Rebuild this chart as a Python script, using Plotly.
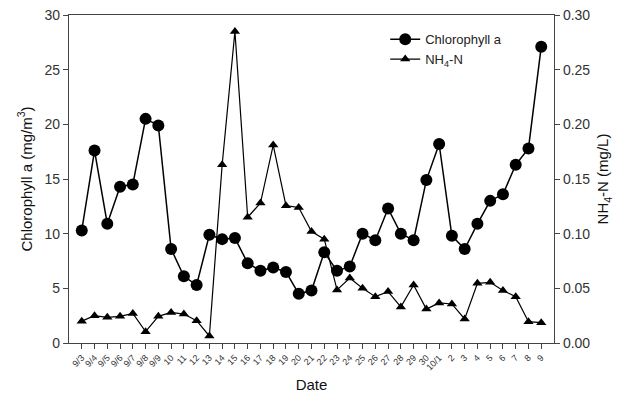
import plotly.graph_objects as go

dates = ["9/3", "9/4", "9/5", "9/6", "9/7", "9/8", "9/9", "10", "11", "12", "13", "14", "15",
         "16", "17", "18", "19", "20", "21", "22", "23", "24", "25", "26", "27", "28", "29", "30",
         "10/1", "2", "3", "4", "5", "6", "7", "8", "9"]
chl = [10.3, 17.6, 10.9, 14.3, 14.5, 20.5, 19.9, 8.6, 6.1, 5.3, 9.9, 9.5, 9.6,
       7.3, 6.6, 6.9, 6.5, 4.5, 4.8, 8.3, 6.6, 7.0, 10.0, 9.4, 12.3, 10.0, 9.4, 14.9,
       18.2, 9.8, 8.6, 10.9, 13.0, 13.6, 16.3, 17.8, 27.1]
nh4 = [0.020, 0.025, 0.0235, 0.0244, 0.027, 0.0104, 0.0244, 0.028, 0.0265, 0.0204, 0.0064, 0.163, 0.285,
       0.115, 0.128, 0.181, 0.1256, 0.124, 0.102, 0.095, 0.0485, 0.0595, 0.050, 0.0424, 0.047, 0.033, 0.053, 0.031,
       0.0366, 0.0357, 0.022, 0.0546, 0.0555, 0.048, 0.0424, 0.0195, 0.0186]

idx = list(range(len(dates)))
FONT = "Liberation Sans, Arial, sans-serif"

fig = go.Figure()
fig.add_trace(go.Scatter(x=idx, y=chl, name="Chlorophyll a", mode="lines+markers",
                         line=dict(color="black", width=1.5),
                         marker=dict(symbol="circle", size=12, color="black")))
fig.add_trace(go.Scatter(x=idx, y=nh4, name="NH<sub>4</sub>-N", mode="lines+markers", yaxis="y2",
                         line=dict(color="black", width=1.2),
                         marker=dict(symbol="triangle-up", size=9, color="black")))

fig.update_layout(
    width=632, height=393,
    margin=dict(l=69, r=78, t=15, b=50),
    paper_bgcolor="white", plot_bgcolor="white",
    font=dict(family=FONT, color="#222"),
    showlegend=True,
    legend=dict(x=0.652, y=0.972, xanchor="left", yanchor="top",
                bgcolor="rgba(0,0,0,0)", font=dict(size=13, color="#222"),
                tracegroupgap=0, itemwidth=30),
    xaxis=dict(range=[-1, 37], tickmode="array", tickvals=idx, ticktext=dates,
               tickangle=-45, tickfont=dict(size=9, color="#333"),
               ticks="outside", ticklen=5, tickcolor="#444",
               showline=True, linecolor="#444", linewidth=1.2, mirror=True,
               showgrid=False, zeroline=False, automargin=False,
               title=dict(text="Date", font=dict(size=15, color="#111"), standoff=10)),
    yaxis=dict(range=[0, 30], tickvals=[0, 5, 10, 15, 20, 25, 30],
               tickfont=dict(size=14, color="#333"),
               ticks="outside", ticklen=5, tickcolor="#444",
               showline=True, linecolor="#444", linewidth=1.2,
               showgrid=False, zeroline=False, automargin=False,
               title=dict(text="Chlorophyll a (mg/m<sup>3</sup>)", font=dict(size=15, color="#111"), standoff=8)),
    yaxis2=dict(range=[0, 0.30], tickvals=[0, 0.05, 0.10, 0.15, 0.20, 0.25, 0.30],
                tickformat=".2f", overlaying="y", side="right",
                tickfont=dict(size=14, color="#333"),
                ticks="outside", ticklen=5, tickcolor="#444",
                showline=True, linecolor="#444", linewidth=1.2,
                showgrid=False, zeroline=False, automargin=False,
                title=dict(text="NH<sub>4</sub>-N (mg/L)", font=dict(size=15, color="#111"), standoff=8)),
)

fig.write_html("out.html")
